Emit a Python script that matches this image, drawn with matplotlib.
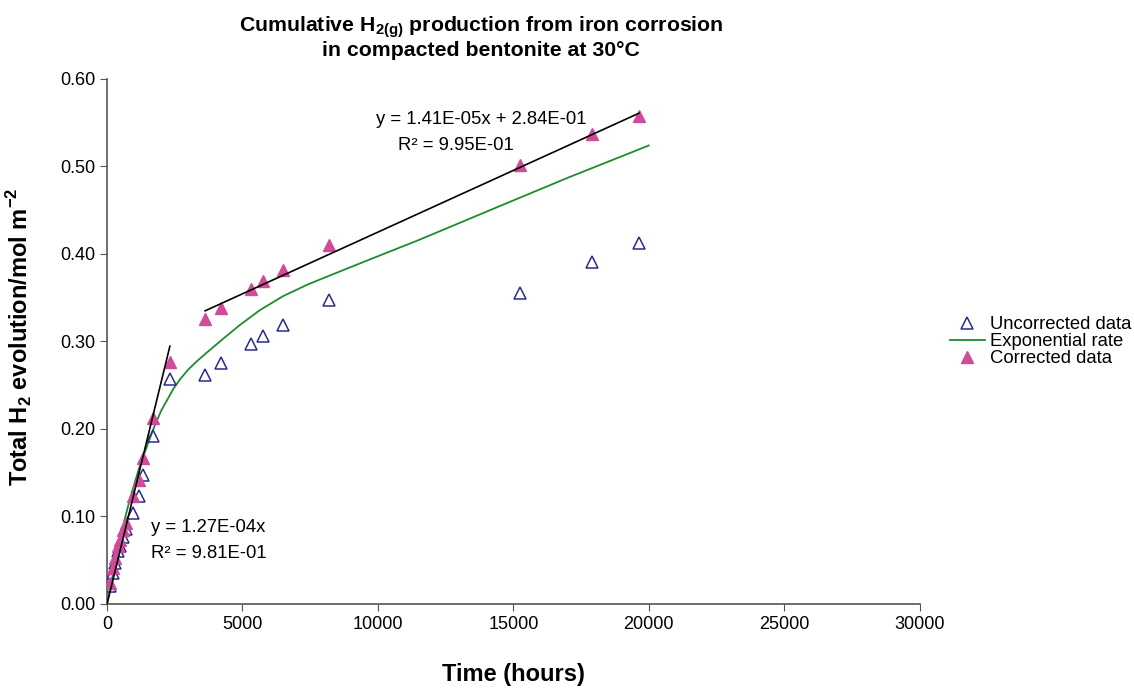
import matplotlib
matplotlib.use("Agg")
import matplotlib.pyplot as plt
import numpy as np

# Time (hours) of each measurement
time_hours = [110, 210, 300, 420, 480, 580, 700, 950, 1190, 1340, 1700, 2340,
              3620, 4190, 5310, 5740, 6480, 8180, 15240, 17920, 19640]
uncorrected = [0.021, 0.035, 0.047, 0.060, 0.066, 0.077, 0.086, 0.104, 0.123,
               0.147, 0.192, 0.257, 0.262, 0.275, 0.297, 0.306, 0.319, 0.347,
               0.355, 0.391, 0.412]
corrected = [0.024, 0.041, 0.053, 0.066, 0.073, 0.084, 0.092, 0.123, 0.142,
             0.167, 0.212, 0.276, 0.326, 0.338, 0.360, 0.369, 0.382, 0.410,
             0.502, 0.537, 0.558]

# Exponential rate curve
exp_time = [0, 300, 630, 870, 1200, 1710, 2000, 2450, 2700, 3000, 3300, 3670,
            4300, 4910, 5650, 6510, 7400, 8350, 9800, 11430, 12900, 14440,
            17000, 20000]
exp_value = [0.0, 0.047, 0.094, 0.123, 0.157, 0.200, 0.221, 0.246, 0.257,
             0.268, 0.277, 0.287, 0.3035, 0.319, 0.336, 0.352, 0.365, 0.377,
             0.395, 0.415, 0.434, 0.454, 0.487, 0.524]

# Linear trendlines (slope, intercept, x range)
early_fit = (1.27e-4, 0.0, 0, 2320)
late_fit = (1.41e-5, 0.284, 3620, 19640)

plt.rcParams["font.family"] = ["Liberation Sans", "DejaVu Sans"]
plt.rcParams["mathtext.fontset"] = "custom"
plt.rcParams["mathtext.rm"] = "Liberation Sans"
plt.rcParams["mathtext.bf"] = "Liberation Sans:bold"

fig = plt.figure(figsize=(11.34, 6.88), dpi=100)
ax = fig.add_axes([0.0944, 0.1221, 0.7166, 0.7631])

navy = "#2B2A8A"
magenta = "#D14B9B"
green = "#1E8C2E"

ax.plot(time_hours, uncorrected, linestyle="none", marker="^", markersize=8,
        markerfacecolor="none", markeredgecolor=navy, markeredgewidth=1.1,
        label="Uncorrected data", zorder=3)
ax.plot(exp_time, exp_value, color=green, linewidth=1.3,
        label="Exponential rate", zorder=2)
ax.plot(time_hours, corrected, linestyle="none", marker="^", markersize=8,
        color=magenta, label="Corrected data", zorder=3)

for slope, icpt, x0, x1 in (early_fit, late_fit):
    xs = np.array([x0, x1])
    ax.plot(xs, slope * xs + icpt, color="black", linewidth=1.2, zorder=4)

ax.set_xlim(0, 30000)
ax.set_ylim(0, 0.6)
ax.set_xticks(np.arange(0, 30001, 5000))
ax.set_yticks(np.arange(0, 0.61, 0.1))
ax.yaxis.set_major_formatter(matplotlib.ticker.FormatStrFormatter("%.2f"))
ax.tick_params(labelsize=13, length=5, color="#555555")
for side in ("top", "right"):
    ax.spines[side].set_visible(False)
for side in ("left", "bottom"):
    ax.spines[side].set_color("#555555")
    ax.spines[side].set_linewidth(1.2)

ann = dict(transform=fig.transFigure, fontsize=13.3, ha="left", va="center")
ax.text(0.3316, 0.827, "y = 1.41E-05x + 2.84E-01", **ann)
ax.text(0.351, 0.789, "R\u00b2 = 9.95E-01", **ann)
ax.text(0.133, 0.234, "y = 1.27E-04x", **ann)
ax.text(0.133, 0.196, "R\u00b2 = 9.81E-01", **ann)

fig.text(0.424, 0.946,
         "Cumulative H$_{\\mathbf{2(g)}}$ production from iron corrosion\n"
         "in compacted bentonite at 30\u00b0C",
         ha="center", va="center", fontsize=15.3, fontweight="bold",
         linespacing=1.1)
ax.set_xlabel("Time (hours)", fontsize=17, fontweight="bold")
ax.xaxis.set_label_coords(0.5006, -0.113)
ax.set_ylabel("Total H$_\\mathbf{2}$ evolution/mol m$^{\\mathbf{-2}}$",
              fontsize=17, fontweight="bold")
ax.yaxis.set_label_coords(-0.089, 0.509)

ax.legend(loc="center left", bbox_to_anchor=(1.028, 0.5), frameon=False,
          fontsize=13.3, handlelength=1.9, handletextpad=0.3, labelspacing=0.0,
          borderaxespad=0)

fig.savefig("out.png", dpi=100)
